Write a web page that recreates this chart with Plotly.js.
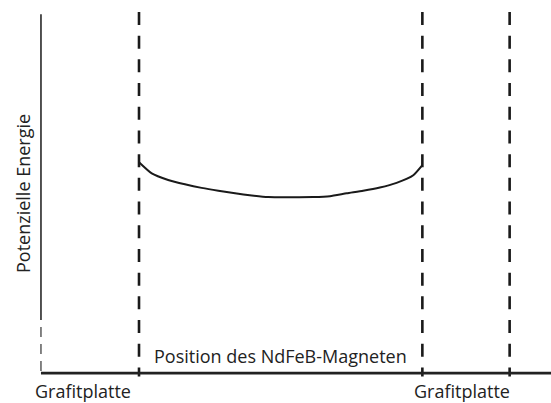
<!DOCTYPE html>
<html>
<head>
<meta charset="utf-8">
<script src="https://cdn.plot.ly/plotly-3.0.1.min.js"></script>
<style>html,body{margin:0;padding:0;background:#fff;}#chart{width:551px;height:403px;}</style>
</head>
<body>
<div id="chart"></div>
<script>
// Position of the NdFeB magnet (arbitrary units; inner plate surfaces at 0 and 10)
const curvePosition = [0, 0.45, 1.03, 1.62, 2.21, 2.80, 3.39, 3.98, 4.56, 5.15, 6.15, 6.74, 7.33, 7.91, 8.50, 9.09, 9.68, 10.0];
// Potential energy (arbitrary units)
const curveEnergy   = [5.84, 5.53, 5.35, 5.23, 5.13, 5.05, 4.98, 4.92, 4.875, 4.867, 4.875, 4.90, 4.98, 5.05, 5.14, 5.27, 5.48, 5.76];
// Graphite plate boundaries: [outer, inner] for left and right plate
const leftPlate  = [-3.46, 0];
const rightPlate = [10, 13.08];
const plateLabels = ["Grafitplatte", "Grafitplatte"];
const xAxisTitle = "Position des NdFeB-Magneten";
const yAxisTitle = "Potenzielle Energie";
const energyTop = 10;

const ink = '#1a1a1a';
const font = {family: 'Open Sans, Liberation Sans, sans-serif', size: 18, color: '#222222'};

const dashedEdges = [leftPlate[1], rightPlate[0], rightPlate[1]];
const traces = [];
dashedEdges.forEach(x => {
  traces.push({x: [x, x], y: [energyTop, -0.09], mode: 'lines', hoverinfo: 'skip',
    line: {color: ink, width: 2.6, dash: '13px,10.7px'}});
});
// left plate outer edge = energy axis
traces.push({x: [leftPlate[0], leftPlate[0]], y: [9.94, 1.47], mode: 'lines', hoverinfo: 'skip',
  line: {color: ink, width: 1.5}});
traces.push({x: [leftPlate[0], leftPlate[0]], y: [1.28, 0], mode: 'lines', hoverinfo: 'skip',
  line: {color: '#333', width: 1.2, dash: '10px,7px'}});
// position axis
traces.push({x: [leftPlate[0], 14.54], y: [0, 0], mode: 'lines', hoverinfo: 'skip',
  line: {color: '#222', width: 2.6}});
// energy curve
traces.push({x: curvePosition, y: curveEnergy, mode: 'lines', hoverinfo: 'skip',
  line: {color: ink, width: 2, shape: 'spline', smoothing: 0.5}});

const annotations = [
  {x: (leftPlate[1] + rightPlate[0]) / 2, y: 0, xref: 'x', yref: 'y', text: xAxisTitle,
   showarrow: false, xanchor: 'center', yanchor: 'bottom', yshift: 3, font: font},
  {x: (leftPlate[0] + leftPlate[1]) / 2, y: 0, xref: 'x', yref: 'y', text: plateLabels[0],
   showarrow: false, xanchor: 'center', yanchor: 'top', xshift: -7, yshift: -5, borderpad: 0, font: font},
  {x: (rightPlate[0] + rightPlate[1]) / 2, y: 0, xref: 'x', yref: 'y', text: plateLabels[1],
   showarrow: false, xanchor: 'center', yanchor: 'top', xshift: -4, yshift: -5, borderpad: 0, font: font},
  {x: 0, y: 0.5, xref: 'paper', yref: 'paper', text: yAxisTitle, textangle: -90,
   showarrow: false, xanchor: 'center', yanchor: 'middle', xshift: -14, yshift: 2, font: font}
];

const layout = {
  width: 551, height: 403,
  margin: {l: 37, r: 0, t: 8, b: 19},
  paper_bgcolor: '#fff', plot_bgcolor: '#fff',
  showlegend: false,
  xaxis: {range: [-3.6, 14.54], showgrid: false, zeroline: false, showline: false,
          showticklabels: false, ticks: '', fixedrange: true},
  yaxis: {range: [-0.3, 10.11], showgrid: false, zeroline: false, showline: false,
          showticklabels: false, ticks: '', fixedrange: true},
  annotations: annotations
};

Plotly.newPlot('chart', traces, layout, {displayModeBar: false, staticPlot: true});
</script>
</body>
</html>
